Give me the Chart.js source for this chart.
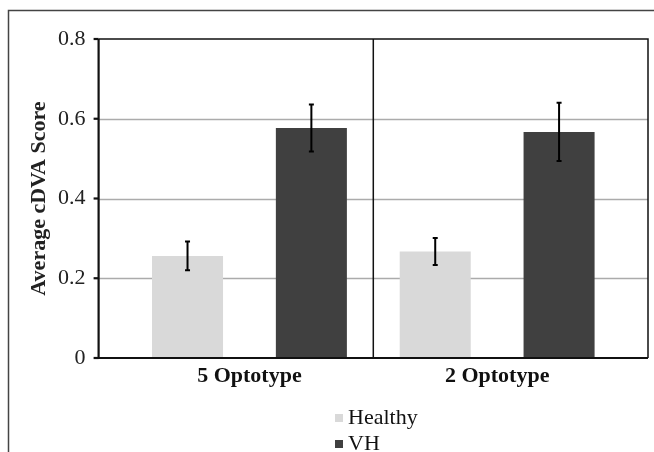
<!DOCTYPE html>
<html>
<head>
<meta charset="utf-8">
<script src="https://cdn.jsdelivr.net/npm/chart.js@4"></script>
<style>
  body { margin: 0; background: #fff; }
  #wrap { position: relative; width: 654px; height: 452px; }
  #legend { position: absolute; left: 335px; top: 404px; font: 22px "Liberation Serif", serif; color: #111; }
  #legend div { display: flex; align-items: center; height: 26px; }
  #legend span.box { width: 8px; height: 8px; margin-right: 5px; margin-top: 2px; }
</style>
</head>
<body>
<div id="wrap">
  <canvas id="chart" width="654" height="452"></canvas>
  <div id="legend"></div>
</div>
<script>
  const categories = ['5 Optotype', '2 Optotype'];
  const seriesNames = ['Healthy', 'VH'];
  const healthyValues = [0.256, 0.267];
  const vhValues = [0.577, 0.567];
  const healthyErr = [0.036, 0.034];
  const vhErr = [0.059, 0.073];
  const yTicks = [0, 0.2, 0.4, 0.6, 0.8];

  const serif = '"Liberation Serif", "Times New Roman", serif';
  const EXT = 27; // plot box reaches past the category band

  // gridlines and frames under the bars
  const backdrop = {
    id: 'backdrop',
    beforeDatasetsDraw(chart) {
      const { ctx, chartArea: a, scales: { y } } = chart;
      const left = a.left - EXT, right = a.right + EXT;
      ctx.save();
      ctx.strokeStyle = '#ababab';
      ctx.lineWidth = 1.3;
      yTicks.forEach(v => {
        if (v === 0 || v === yTicks[yTicks.length - 1]) return;
        const py = Math.round(y.getPixelForValue(v)) + 0.5;
        ctx.beginPath(); ctx.moveTo(left, py); ctx.lineTo(right, py); ctx.stroke();
      });
      // figure frame (top + left)
      ctx.strokeStyle = '#444';
      ctx.lineWidth = 1.5;
      ctx.beginPath(); ctx.moveTo(8.5, chart.height); ctx.lineTo(8.5, 10.5); ctx.lineTo(chart.width, 10.5); ctx.stroke();
      ctx.restore();
    },
    afterDatasetsDraw(chart) {
      const { ctx, chartArea: a, scales: { x, y } } = chart;
      const left = a.left - EXT, right = a.right + EXT;
      ctx.save();
      // error bars
      ctx.strokeStyle = '#000';
      ctx.lineWidth = 2;
      const errs = [healthyErr, vhErr];
      chart.data.datasets.forEach((ds, i) => {
        chart.getDatasetMeta(i).data.forEach((bar, j) => {
          const v = ds.data[j], e = errs[i][j];
          const hi = y.getPixelForValue(v + e), lo = y.getPixelForValue(v - e);
          ctx.beginPath();
          ctx.moveTo(bar.x, hi); ctx.lineTo(bar.x, lo);
          ctx.moveTo(bar.x - 2.5, hi); ctx.lineTo(bar.x + 2.5, hi);
          ctx.moveTo(bar.x - 2.5, lo); ctx.lineTo(bar.x + 2.5, lo);
          ctx.stroke();
        });
      });
      // plot box
      ctx.strokeStyle = '#111';
      const top = a.top, bottom = a.bottom;
      ctx.lineWidth = 1.5;
      ctx.beginPath();
      ctx.moveTo(left, top); ctx.lineTo(right, top); ctx.lineTo(right, bottom);
      ctx.stroke();
      const mid = (x.getPixelForValue(0) + x.getPixelForValue(1)) / 2;
      ctx.beginPath(); ctx.moveTo(mid, top); ctx.lineTo(mid, bottom); ctx.stroke();
      ctx.lineWidth = 2.2;
      ctx.beginPath(); ctx.moveTo(left, top); ctx.lineTo(left, bottom); ctx.lineTo(right, bottom); ctx.stroke();
      // tick marks
      yTicks.forEach(v => {
        const py = y.getPixelForValue(v);
        ctx.beginPath(); ctx.moveTo(left - 5, py); ctx.lineTo(left, py); ctx.stroke();
      });
      ctx.restore();
    }
  };

  const chart = new Chart(document.getElementById('chart'), {
    type: 'bar',
    data: {
      labels: categories,
      datasets: [
        { label: seriesNames[0], data: healthyValues, backgroundColor: '#d9d9d9', borderWidth: 0 },
        { label: seriesNames[1], data: vhValues, backgroundColor: '#404040', borderWidth: 0 }
      ]
    },
    options: {
      responsive: false,
      animation: false,
      events: [],
      categoryPercentage: 1.0,
      barPercentage: 0.5735,
      layout: { padding: { left: 0, right: 33, top: 39, bottom: 34 } },
      plugins: { legend: { display: false }, tooltip: { enabled: false } },
      scales: {
        x: {
          grid: { display: false, drawTicks: false },
          border: { display: false },
          ticks: { padding: 5, color: '#111', font: { family: serif, size: 22, weight: 'bold' } },
          afterFit(scale) { scale.height = 60; }
        },
        y: {
          min: 0, max: 0.8,
          afterBuildTicks(scale) { scale.ticks = yTicks.map(v => ({ value: v })); },
          grid: { display: false, drawTicks: false },
          border: { display: false },
          ticks: {
            padding: 40, color: '#222', font: { family: serif, size: 22 },
            callback: v => v === 0 ? '0' : v.toFixed(1)
          },
          title: {
            display: true, text: 'Average cDVA Score', color: '#222',
            font: { family: serif, size: 22, weight: 'bold' }, padding: { top: 26, bottom: 0 }
          },
          afterFit(scale) {
            scale.width = 125.6;
            scale.paddingTop = 0;
            scale.paddingBottom = 0;
          }
        }
      }
    },
    plugins: [backdrop]
  });

  // legend, stacked as in the original
  const legendEl = document.getElementById('legend');
  chart.data.datasets.forEach(ds => {
    const row = document.createElement('div');
    const box = document.createElement('span');
    box.className = 'box';
    box.style.background = ds.backgroundColor;
    row.appendChild(box);
    row.appendChild(document.createTextNode(ds.label));
    legendEl.appendChild(row);
  });
</script>
</body>
</html>
